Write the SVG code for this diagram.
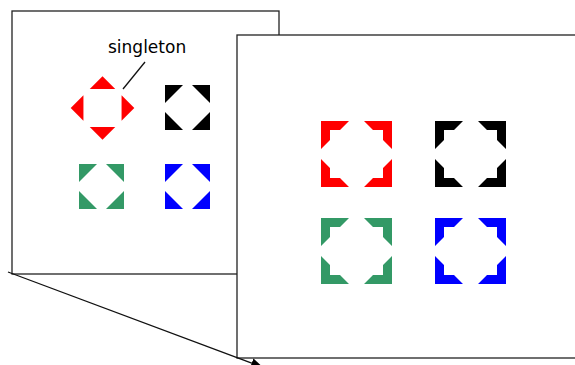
<svg xmlns="http://www.w3.org/2000/svg" xmlns:xlink="http://www.w3.org/1999/xlink" width="575" height="365" viewBox="0 0 575 365">
<style>
.panel{fill:#fff;stroke:#222;stroke-width:1.3}
.conn{stroke:#111;stroke-width:1.3;fill:none}
.lbl{font-family:"DejaVu Sans",sans-serif;font-size:17px;fill:#000}
.red{fill:#ff0000}.blk{fill:#000}.grn{fill:#339966}.blu{fill:#0000ff}
</style>
<defs>
<path id="tri" d="M0,0 H18 L0,18 Z"/>
<g id="small">
<use xlink:href="#tri"/>
<use xlink:href="#tri" transform="translate(45,0) scale(-1,1)"/>
<use xlink:href="#tri" transform="translate(0,45) scale(1,-1)"/>
<use xlink:href="#tri" transform="translate(45,45) scale(-1,-1)"/>
</g>
<path id="cor" d="M0,0 H28 L19,9 H9 V19 L0,28 Z"/>
<g id="large">
<use xlink:href="#cor"/>
<use xlink:href="#cor" transform="translate(71,0) scale(-1,1)"/>
<use xlink:href="#cor" transform="translate(0,66) scale(1,-1)"/>
<use xlink:href="#cor" transform="translate(71,66) scale(-1,-1)"/>
</g>
<marker id="arr" markerWidth="12" markerHeight="10" refX="11" refY="5" orient="auto" markerUnits="userSpaceOnUse">
<path d="M0,0 L12,5 L0,10 Z" fill="#000"/>
</marker>
</defs>
<g id="backPanel">
<rect class="panel" x="12" y="11" width="267" height="263"/>
<g id="smallRed" class="red" transform="translate(102.5,108) rotate(45) translate(-22.5,-22.5)"><use xlink:href="#small"/></g>
<g id="smallBlack" class="blk" transform="translate(165,85)"><use xlink:href="#small"/></g>
<g id="smallGreen" class="grn" transform="translate(79,164)"><use xlink:href="#small"/></g>
<g id="smallBlue" class="blu" transform="translate(165,164)"><use xlink:href="#small"/></g>
<text id="singletonLabel" class="lbl" x="108" y="53">singleton</text>
</g>
<g id="frontPanel">
<rect class="panel" x="237" y="35" width="345" height="323"/>
<g id="largeRed" class="red" transform="translate(321,121)"><use xlink:href="#large"/></g>
<g id="largeBlack" class="blk" transform="translate(435,121)"><use xlink:href="#large"/></g>
<g id="largeGreen" class="grn" transform="translate(321,218)"><use xlink:href="#large"/></g>
<g id="largeBlue" class="blu" transform="translate(435,218)"><use xlink:href="#large"/></g>
</g>
<g id="connectors">
<line class="conn" x1="145" y1="62" x2="123" y2="89"/>
<line class="conn" x1="8" y1="272" x2="262" y2="367" marker-end="url(#arr)"/>
</g>
</svg>
